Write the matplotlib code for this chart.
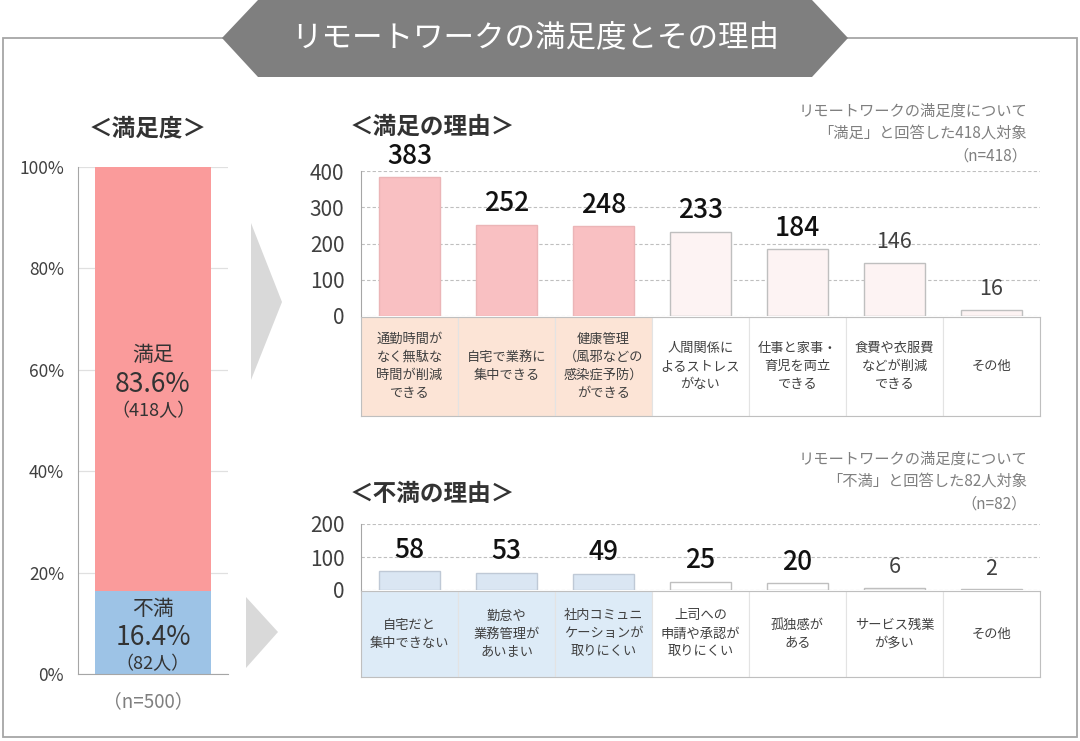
import numpy as np
import matplotlib.pyplot as plt
from matplotlib.patches import Polygon, Rectangle

plt.rcParams['font.family'] = ['Noto Sans CJK JP', 'DejaVu Sans']

title = 'リモートワークの満足度とその理由'

# overall satisfaction (n=500)
overall_labels = ['不満', '満足']
overall_pct = [16.4, 83.6]
overall_n = [82, 418]
overall_total = 500

# reasons for satisfaction (n=418)
sat_reasons = ['通勤時間が\nなく無駄な\n時間が削減\nできる', '自宅で業務に\n集中できる',
               '健康管理\n（風邪などの\n感染症予防）\nができる', '人間関係に\nよるストレス\nがない',
               '仕事と家事・\n育児を両立\nできる', '食費や衣服費\nなどが削減\nできる', 'その他']
sat_counts = [383, 252, 248, 233, 184, 146, 16]
sat_note = ['リモートワークの満足度について', '「満足」と回答した418人対象', '（n=418）']

# reasons for dissatisfaction (n=82)
dis_reasons = ['自宅だと\n集中できない', '勤怠や\n業務管理が\nあいまい', '社内コミュニ\nケーションが\n取りにくい',
               '上司への\n申請や承認が\n取りにくい', '孤独感が\nある', 'サービス残業\nが多い', 'その他']
dis_counts = [58, 53, 49, 25, 20, 6, 2]
dis_note = ['リモートワークの満足度について', '「不満」と回答した82人対象', '（n=82）']

W, H = 1080, 741
fig = plt.figure(figsize=(W / 100, H / 100), dpi=100)


def px_axes(l, t, r, b):
    return fig.add_axes([l / W, 1 - b / H, (r - l) / W, (b - t) / H])


# background: frame, title banner, arrows
bg = fig.add_axes([0, 0, 1, 1])
bg.set_xlim(0, W)
bg.set_ylim(H, 0)
bg.axis('off')
bg.add_patch(Rectangle((3, 38), 1074, 699, fill=False, ec='#A6A6A6', lw=1.3))
bg.add_patch(Polygon([(222, 38), (258, 0), (812, 0), (848, 38), (812, 77), (258, 77)],
                     closed=True, fc='#7F7F7F', ec='none', zorder=3))
bg.text(535, 38, title, color='white', fontsize=22, ha='center', va='center', zorder=4)
bg.add_patch(Polygon([(251, 223), (251, 380), (282, 302)], fc='#D9D9D9', ec='none'))
bg.add_patch(Polygon([(246, 597), (246, 668), (278, 632)], fc='#D9D9D9', ec='none'))

grey_txt = '#7F7F7F'
dark_txt = '#333333'

# ---- left: overall satisfaction stacked bar
bg.text(148, 128, '＜満足度＞', fontsize=17, ha='center', va='center', color=dark_txt, weight='bold')
bg.text(148, 702, f'（n={overall_total}）', fontsize=13.5, ha='center', va='center', color=grey_txt)

ax0 = px_axes(78, 167, 228, 674)
ax0.set_facecolor('none')
left_colors = ['#9DC3E6', '#FA9B9B']
bottom = 0
for lab, pct, n, c in zip(overall_labels, overall_pct, overall_n, left_colors):
    ax0.bar(0, pct, bottom=bottom, width=0.767, color=c, zorder=2)
    yc = bottom + pct / 2
    ax0.annotate(lab, (0, yc), xytext=(0, 17), textcoords='offset points',
                 ha='center', va='center', fontsize=15, color=dark_txt)
    ax0.annotate(f'{pct}%', (0, yc), xytext=(0, -4), textcoords='offset points',
                 ha='center', va='center', fontsize=19, color=dark_txt)
    ax0.annotate(f'（{n}人）', (0, yc), xytext=(0, -23), textcoords='offset points',
                 ha='center', va='center', fontsize=13, color=dark_txt)
    bottom += pct
ax0.set_xlim(-0.5, 0.5)
ax0.set_ylim(0, 100)
ax0.set_yticks(np.arange(0, 101, 20))
ax0.set_yticklabels([f'{v}%' for v in range(0, 101, 20)])
ax0.set_xticks([])
ax0.yaxis.grid(True, color='#E0E0E0', lw=0.9)
ax0.set_axisbelow(True)
for s in ['top', 'right']:
    ax0.spines[s].set_visible(False)
for s in ['left', 'bottom']:
    ax0.spines[s].set_color('#A6A6A6')
ax0.tick_params(length=0, labelsize=12.5, labelcolor='#404040', pad=10)


def reason_chart(top, base, tab_bottom, counts, reasons, ymax, ystep,
                 bar_hi, bar_lo, edge_hi, cell_hi, header, hy, note, ny):
    ax = px_axes(361, top, 1040, base)
    ax.set_facecolor('none')
    x = np.arange(len(counts))
    fcs = [bar_hi if i < 3 else bar_lo for i in x]
    ecs = [edge_hi if i < 3 else '#BFBFBF' for i in x]
    ax.bar(x, counts, width=0.63, color=fcs, edgecolor=ecs, lw=1.0, zorder=2)
    for i, v in enumerate(counts):
        big = i < 5
        ax.annotate(str(v), (i, v), xytext=(0, 15), textcoords='offset points',
                    ha='center', va='center',
                    fontsize=19 if big else 15.5,
                    color='#111111' if big else '#404040',
                    weight='medium' if big else 'normal')
    ax.set_xlim(-0.5, len(counts) - 0.5)
    ax.set_ylim(0, ymax)
    ax.set_yticks(np.arange(0, ymax + 1, ystep))
    ax.set_xticks([])
    ax.yaxis.grid(True, color='#BFBFBF', ls=(0, (3, 2)), lw=0.8)
    ax.set_axisbelow(True)
    for s in ['top', 'right', 'bottom']:
        ax.spines[s].set_visible(False)
    ax.spines['left'].set_color('#A6A6A6')
    ax.tick_params(length=0, labelsize=15, labelcolor='#404040', pad=12)

    tab = px_axes(361, base + 1, 1040, tab_bottom)
    tab.set_xlim(-0.5, len(counts) - 0.5)
    tab.set_ylim(0, 1)
    tab.set_xticks([])
    tab.set_yticks([])
    for s in tab.spines.values():
        s.set_color('#BFBFBF')
    for i, r in enumerate(reasons):
        tab.add_patch(Rectangle((i - 0.5, 0), 1, 1, fc=cell_hi if i < 3 else 'white',
                                ec='#E3E3E3', lw=0.8))
        tab.text(i, 0.5, r, ha='center', va='center', fontsize=9.5,
                 color='#404040', linespacing=1.5)

    bg.text(350, hy, header, fontsize=17, ha='left', va='center', color=dark_txt, weight='bold')
    for k, line in enumerate(note):
        bg.text(1027, ny + k * 22.5, line, fontsize=11, ha='right', va='center', color=grey_txt)


reason_chart(171, 316, 416, sat_counts, sat_reasons, 400, 100,
             '#F9C0C2', '#FDF3F3', '#EBB5B7', '#FCE4D6',
             '＜満足の理由＞', 127, sat_note, 111)
reason_chart(524, 590, 677, dis_counts, dis_reasons, 200, 100,
             '#DAE6F3', 'white', '#BFC9D6', '#DDEBF7',
             '＜不満の理由＞', 494, dis_note, 459)

fig.savefig('out.png', dpi=100)
